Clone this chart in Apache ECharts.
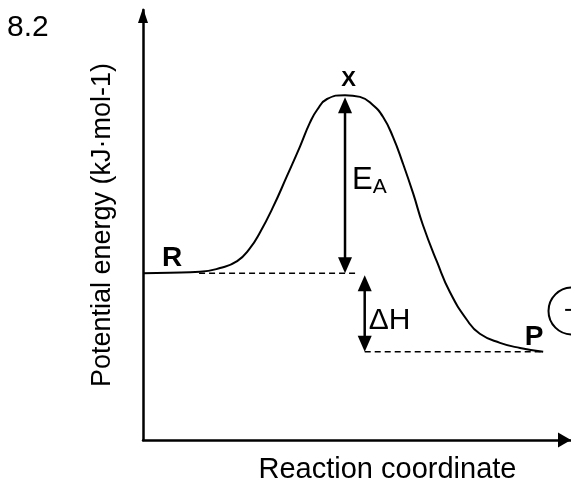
<!DOCTYPE html>
<html><head><meta charset="utf-8">
<script src="https://cdn.jsdelivr.net/npm/echarts@6/dist/echarts.min.js"></script>
<style>html,body{margin:0;padding:0;background:#fff}#c{width:571px;height:482px}</style>
</head><body><div id="c"></div>
<script>
// Reaction coordinate (arbitrary units 0-100) and potential energy (arbitrary units 0-100)
const curveX = [0, 6.3, 13.3, 18.0, 22.0, 25.0, 27.3, 30.4, 33.6, 36.7, 39.0, 40.7, 43.0, 47.2, 50.7, 53.7, 56.1, 58.4, 60.7, 63.1, 65.4, 68.7, 71.7, 75.7, 78.7, 83.4, 88.1, 93.5];
const curveY = [38.8, 38.9, 39.1, 40.0, 41.6, 44.6, 48.2, 54.2, 61.3, 68.3, 73.8, 76.8, 79.3, 80.2, 79.8, 77.9, 75.1, 70.5, 64.4, 57.4, 50.0, 41.4, 34.4, 27.9, 24.7, 22.6, 21.4, 20.5];
const stateNames = ['R', 'X', 'P'];
const arrowNames = ['EA', 'ΔH'];
const arrowX = [47.2, 51.8];
const guideFromX = [13.1, 51.8];
const guideToX = [50.0, 93.5];

const iPeak = curveY.indexOf(Math.max.apply(null, curveY));
const iLast = curveY.length - 1;
const levelR = curveY[0], levelX = curveY[iPeak], levelP = curveY[iLast];

const curveData = curveX.map((x, i) => [x, curveY[i]]);
const guideData = [[guideFromX[0], guideToX[0], levelR], [guideFromX[1], guideToX[1], levelP]];
const arrowData = [[arrowX[0], levelR, levelX], [arrowX[1], levelP, levelR]];

const FONT = '"Liberation Sans", Arial, Helvetica, sans-serif';
const boldLbl = (size, off) => ({show: true, position: 'inside', fontSize: size, fontWeight: 'bold', color: '#000', opacity: 1, fontFamily: FONT, offset: off});
const labelData = [
  {value: [curveX[0], levelR], label: Object.assign(boldLbl(28, [29, -15]), {formatter: stateNames[0]})},
  {value: [curveX[iPeak], levelX], label: Object.assign(boldLbl(22, [3.5, -15]), {formatter: stateNames[1]})},
  {value: [curveX[iLast], levelP], label: Object.assign(boldLbl(28, [-9, -15]), {formatter: stateNames[2]})},
  {value: [arrowX[0], (levelR + levelX) / 2], label: {show: true, position: 'inside', align: 'left', offset: [7, -4], opacity: 1,
     formatter: '{e|' + arrowNames[0][0] + '}{s|' + arrowNames[0].slice(1) + '}',
     rich: {e: {fontSize: 31, lineHeight: 31, verticalAlign: 'top', color: '#000', fontFamily: FONT},
            s: {fontSize: 21, lineHeight: 21, padding: [15, 0, 0, 0], color: '#000', fontFamily: FONT}}}},
  {value: [arrowX[1], (levelR + levelP) / 2], label: {show: true, position: 'inside', align: 'left', offset: [4, 8], opacity: 1,
     formatter: arrowNames[1], fontSize: 30, color: '#000', fontFamily: FONT}}
];

const chart = echarts.init(document.getElementById('c'), null, {renderer: 'canvas'});
chart.setOption({
  animation: false,
  backgroundColor: '#fff',
  textStyle: {fontFamily: FONT, color: '#000'},
  title: {text: '8.2', left: 7, top: 13, padding: 0, textStyle: {fontSize: 30, fontWeight: 'normal', color: '#000', fontFamily: FONT}},
  grid: {left: 143, right: 0, top: 10, bottom: 42, containLabel: false, outerBoundsMode: 'none'},
  xAxis: {type: 'value', min: 0, max: 100,
    axisLine: {show: true, onZero: false, symbol: ['none', 'triangle'], symbolSize: [15, 13], symbolOffset: [0, -6.5], lineStyle: {color: '#000', width: 2.5}},
    axisTick: {show: false}, axisLabel: {show: false}, splitLine: {show: false},
    name: 'Reaction coordinate', nameLocation: 'middle', nameGap: 15,
    nameTextStyle: {fontSize: 29, color: '#000', fontFamily: FONT, padding: [0, 0, 0, 61]}},
  yAxis: {type: 'value', min: 0, max: 100,
    axisLine: {show: true, onZero: false, symbol: ['none', 'triangle'], symbolSize: [10, 15], symbolOffset: [0, -5.5], lineStyle: {color: '#000', width: 2.5}},
    axisTick: {show: false}, axisLabel: {show: false}, splitLine: {show: false},
    name: 'Potential energy (kJ·mol-1)', nameLocation: 'middle', nameGap: 27,
    nameTextStyle: {fontSize: 27, color: '#000', fontFamily: FONT}},
  graphic: [
    {type: 'circle', shape: {cx: 572, cy: 311, r: 23.5}, style: {fill: 'none', stroke: '#000', lineWidth: 2}, z: 10},
    {type: 'text', style: {text: '−', x: 572, y: 311, align: 'center', verticalAlign: 'middle', fontSize: 28, fill: '#000', fontFamily: FONT}, z: 10}
  ],
  series: [
    {type: 'line', data: curveData, smooth: 0.5, showSymbol: false, symbol: 'none', lineStyle: {color: '#000', width: 2}, z: 3},
    {type: 'custom', data: guideData, encode: {x: [0, 1], y: 2}, z: 2,
      renderItem: (params, api) => {
        const a = api.coord([api.value(0), api.value(2)]);
        const b = api.coord([api.value(1), api.value(2)]);
        return {type: 'line', shape: {x1: a[0], y1: a[1], x2: b[0], y2: b[1]}, style: {stroke: '#000', lineWidth: 1.5, lineDash: [6, 4]}};
      }},
    {type: 'custom', data: arrowData, encode: {x: 0, y: [1, 2]}, z: 4,
      renderItem: (params, api) => {
        const top = api.coord([api.value(0), api.value(2)]);
        const bot = api.coord([api.value(0), api.value(1)]);
        const x = top[0], ty = top[1] + 2, by = bot[1], hl = 16, hw = 7;
        return {type: 'group', children: [
          {type: 'line', shape: {x1: x, y1: ty + hl - 1, x2: x, y2: by - hl + 1}, style: {stroke: '#000', lineWidth: 2.5}},
          {type: 'polygon', shape: {points: [[x, ty], [x - hw, ty + hl], [x + hw, ty + hl]]}, style: {fill: '#000'}},
          {type: 'polygon', shape: {points: [[x, by], [x - hw, by - hl], [x + hw, by - hl]]}, style: {fill: '#000'}}
        ]};
      }},
    {type: 'scatter', data: labelData, symbolSize: 0, silent: true, z: 5, itemStyle: {opacity: 1}}
  ]
});
</script></body></html>
